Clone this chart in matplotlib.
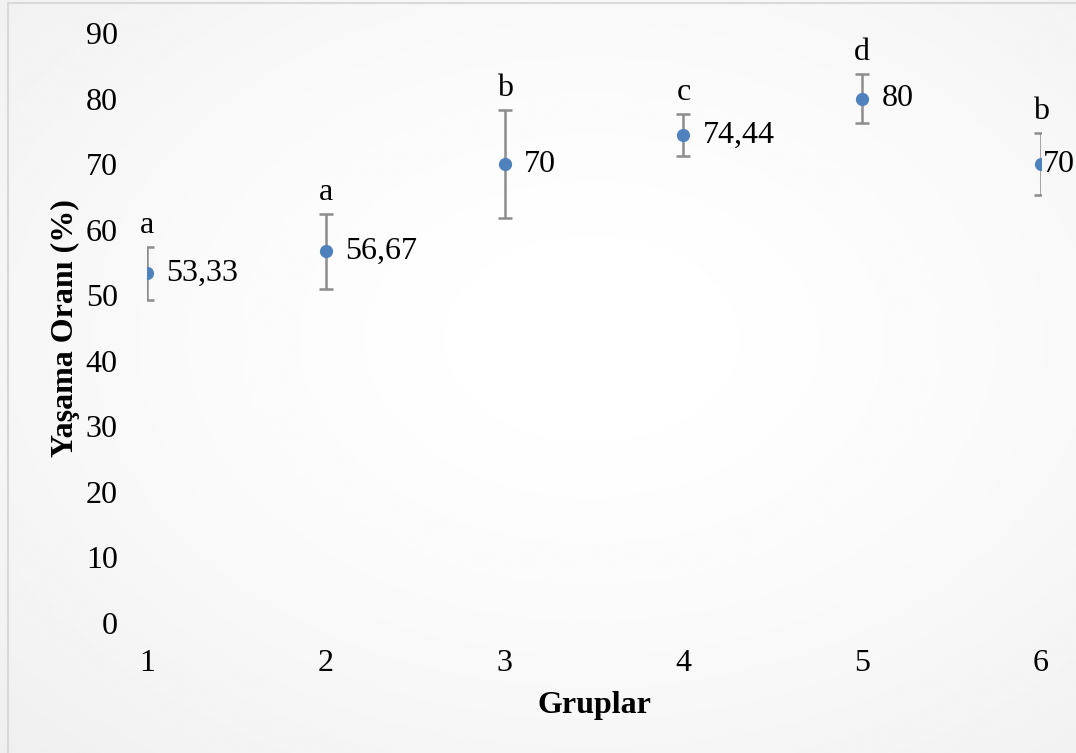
import numpy as np
import matplotlib
matplotlib.use("Agg")
import matplotlib.pyplot as plt

groups = [1, 2, 3, 4, 5, 6]
survival = [53.33, 56.67, 70, 74.44, 80, 70]
errors = [4.1, 5.7, 8.2, 3.2, 3.8, 4.7]
letters = ["a", "a", "b", "c", "d", "b"]
value_labels = ["53,33", "56,67", "70", "74,44", "80", "70"]
yticks = [0, 10, 20, 30, 40, 50, 60, 70, 80, 90]

plt.rcParams['font.family'] = ['Liberation Serif', 'DejaVu Serif']

fig = plt.figure(figsize=(10.76, 7.53), dpi=100)
fig.patch.set_facecolor('white')

# radial gradient background
bg = fig.add_axes([0, 0, 1, 1], zorder=-10)
yy, xx = np.mgrid[0:1:300j, 0:1:400j]
r = np.sqrt(((xx - 0.55) / 0.8) ** 2 + ((yy - 0.45) / 0.8) ** 2)
img = 1.0 - 0.065 * np.clip(r, 0, 1) ** 1.6
bg.imshow(img, cmap='gray', vmin=0, vmax=1, aspect='auto', extent=[0, 1, 0, 1])
bg.plot([0.0075, 0.0075, 1.0], [0.0, 0.996, 0.996], color='#d9d9d9', lw=1.5,
        transform=bg.transAxes)
bg.set_xlim(0, 1); bg.set_ylim(0, 1)
bg.axis('off')

ax = fig.add_axes([0.1366, 0.1726, 0.9675 - 0.1366, 0.9562 - 0.1726])
ax.patch.set_alpha(0)
ax.errorbar(groups, survival, yerr=errors, fmt='o', color='#4F81BD',
            markersize=8.5, ecolor='#8c8c8c', elinewidth=1.8, capsize=5,
            capthick=1.8, zorder=3)

fs = 23
for i, (x, y, e) in enumerate(zip(groups, survival, errors)):
    ax.annotate(letters[i], (x, y + e), xytext=(0, 5), textcoords='offset points',
                ha='center', va='bottom', fontsize=fs)
    dx = 1 if i == len(groups) - 1 else 14
    ax.annotate(value_labels[i], (x, y), xytext=(dx, 0), textcoords='offset points',
                ha='left', va='center', fontsize=fs)

ax.set_xlim(1, 6)
ax.set_ylim(0, 90)
ax.set_xticks(groups)
ax.set_yticks(yticks)
ax.tick_params(axis='both', length=0, labelsize=fs)
ax.tick_params(axis='x', pad=19)
ax.tick_params(axis='y', pad=21)
for s in ax.spines.values():
    s.set_visible(False)

ax.set_xlabel('Gruplar', fontsize=fs, fontweight='bold', labelpad=9)
ax.set_ylabel('Yaşama Oranı (%)', fontsize=fs, fontweight='bold', labelpad=4)

fig.savefig('out.png', dpi=100)
